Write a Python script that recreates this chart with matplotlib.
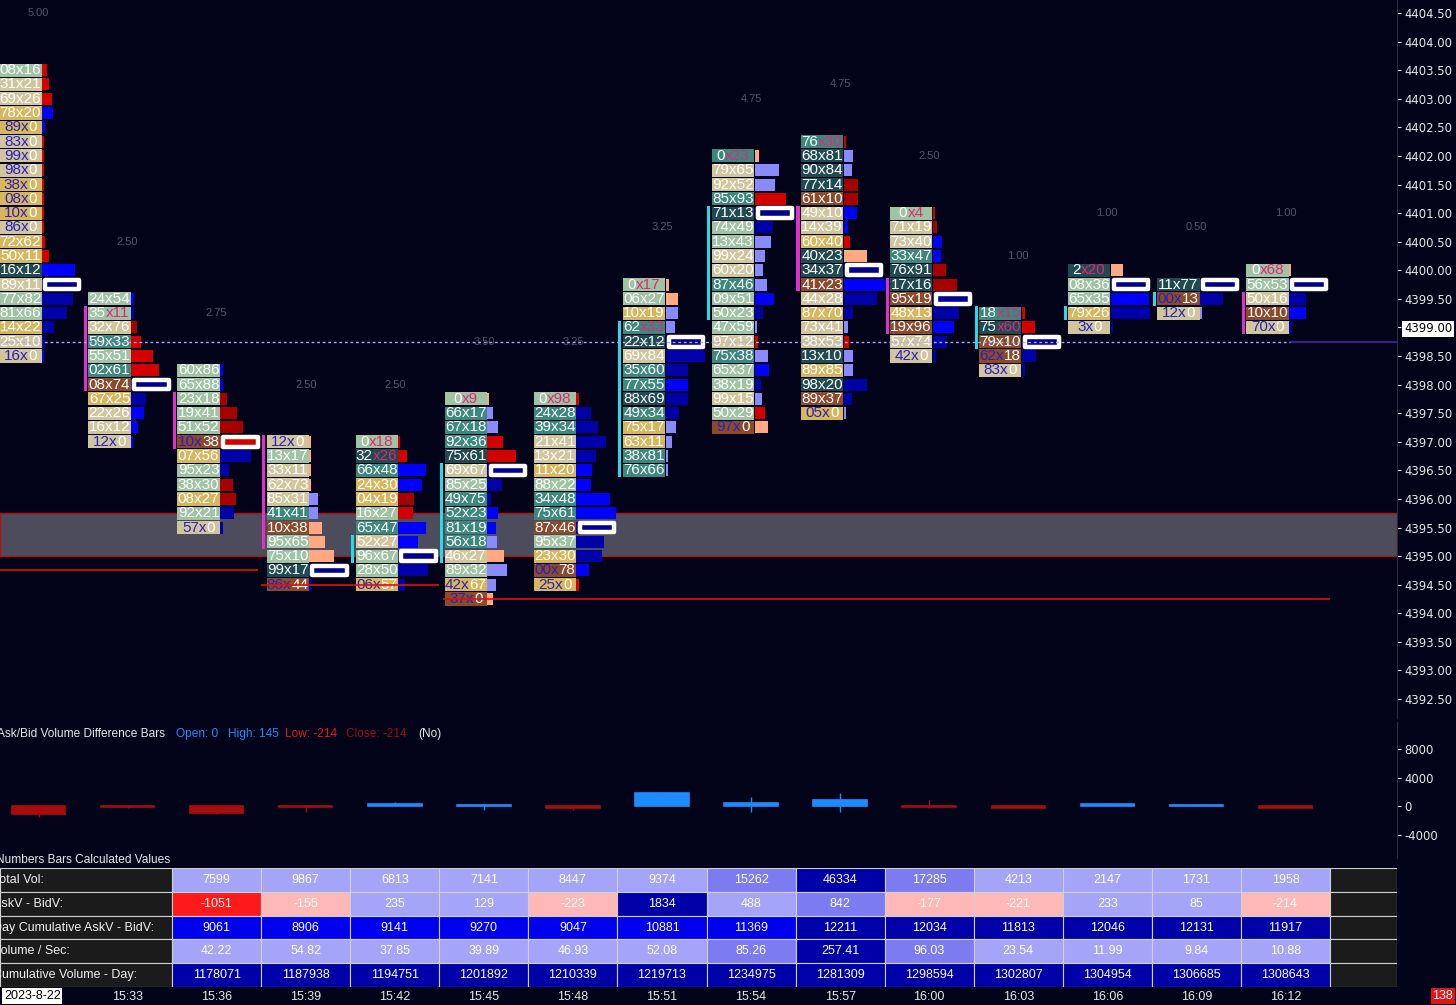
import matplotlib.pyplot as plt
from matplotlib.patches import Rectangle
import numpy as np

plt.rcParams['font.family'] = ['Liberation Sans', 'DejaVu Sans']

BG = '#03031a'

# ---- data ----
times = ["15:30", "15:33", "15:36", "15:39", "15:42", "15:45", "15:48", "15:51",
         "15:54", "15:57", "16:00", "16:03", "16:06", "16:09", "16:12"]
fp_top = [4403.50, 4399.50, 4398.25, 4397.00, 4397.00, 4397.75, 4397.75, 4399.75,
          4402.00, 4402.25, 4401.00, 4399.25, 4400.00, 4399.75, 4400.00]
fp_range = ["5.00", "2.50", "2.75", "2.50", "2.50", "3.50", "3.25", "3.25",
            "4.75", "4.75", "2.50", "1.00", "1.00", "0.50", "1.00"]

fp_text = [
    ["08x16", "31x21", "69x26", "78x20", "89x0", "83x0", "99x0", "98x0", "38x0", "08x0", "10x0",
     "86x0", "72x62", "50x11", "16x12", "89x11", "77x82", "81x66", "14x22", "25x10", "16x0"],
    ["24x54", "35x11", "32x76", "59x33", "55x51", "02x61", "08x74", "67x25", "22x26", "16x12", "12x0"],
    ["60x86", "65x88", "23x18", "19x41", "51x52", "10x38", "07x56", "95x23", "38x30", "08x27", "92x21", "57x0"],
    ["12x0", "13x17", "33x11", "62x73", "85x31", "41x41", "10x38", "95x65", "75x10", "99x17", "86x44"],
    ["0x18", "32x26", "66x48", "24x30", "04x19", "16x27", "65x47", "52x27", "96x67", "28x50", "06x57"],
    ["0x9", "66x17", "67x18", "92x36", "75x61", "69x67", "85x25", "49x75", "52x23", "81x19", "56x18",
     "46x27", "89x32", "42x67", "37x0"],
    ["0x98", "24x28", "39x34", "21x41", "13x21", "11x20", "88x22", "34x48", "75x61", "87x46", "95x37",
     "23x30", "00x78", "25x0"],
    ["0x17", "06x27", "10x19", "62x33", "22x12", "69x84", "35x60", "77x55", "88x69", "49x34", "75x17",
     "63x11", "38x81", "76x66"],
    ["0x23", "79x65", "92x52", "85x93", "71x13", "74x49", "13x43", "99x24", "60x20", "87x46", "09x51",
     "50x23", "47x59", "97x12", "75x38", "65x37", "38x19", "99x15", "50x29", "97x0"],
    ["76x30", "68x81", "90x84", "77x14", "61x10", "49x10", "14x39", "60x40", "40x23", "34x37", "41x23",
     "44x28", "87x70", "73x41", "38x53", "13x10", "89x85", "98x20", "89x37", "05x0"],
    ["0x4", "71x19", "73x40", "33x47", "76x91", "17x16", "95x19", "48x13", "19x96", "57x74", "42x0"],
    ["18x15", "75x60", "79x10", "62x18", "83x0"],
    ["2x20", "08x36", "65x35", "79x26", "3x0"],
    ["11x77", "00x13", "12x0"],
    ["0x68", "56x53", "50x16", "10x10", "70x0"],
]
# cell shade codes, text colour codes, profile lengths and profile colour codes
fp_cell = ["gttyytttyyytyydtggytt", "ggtcgcbyttt", "gggggbyggygt", "tgtttcbggdb", "gdcyygctggy",
           "gcccdtgcccctgyb", "gccttygccbgyby", "ggycdtccdcyycc", "cttcdggttcgggtcggtgb",
           "cdddbttyddbtyttdydby", "gttcddbybtt", "cdbbt", "dggyt", "dbt", "ggtbt"]
fp_style = ["wwwwBBBBBBBBwwwwwwwwB", "wPwwwwwwwwB", "wwwwwBwwwwwB", "BwwwwwwwwwB", "PPwwwwwwwwB",
            "PwwwwwwwwwwwwBB", "PwwwwwwwwwwwBB", "PwwPwwwwwwwwww", "PwwwwwwwwwwwwwwwwwwB",
            "PwwwwwwwwwwwwwwwwwwB", "PwwwwwwwwwB", "PPwBB", "PwwwB", "wBB", "PwwwB"]
fp_hlen = [
    [4.5, 7, 10, 11, 2.5, 2, 2, 2, 2, 2, 2, 2, 3, 6.5, 33, 38, 31, 25, 12, 3, 2],
    [3, 3, 6, 10, 22, 28, 38, 15, 13, 7, 2],
    [3, 3, 7, 17, 23, 38, 31, 9, 13, 16, 14, 3],
    [2, 2, 2, 2, 9, 9, 13, 16, 25, 38, 3],
    [2, 9, 28, 24, 16, 15, 28, 20, 38, 30, 7],
    [2, 6, 11, 16, 29, 38, 15, 4, 11, 9, 10, 17, 20, 9, 6],
    [3, 15, 22, 30, 20, 16, 15, 34, 40, 38, 28, 26, 13, 3],
    [3, 12, 12, 9, 38, 39, 22, 22, 22, 13, 10, 6, 2, 2],
    [4, 24, 20, 31, 38, 18, 16, 10, 8, 12, 19, 8, 2, 3, 13, 14, 6, 7, 10, 13],
    [2, 9, 8, 14, 14, 13, 4, 6, 23, 38, 41, 33, 9, 4, 5, 9, 9, 23, 8, 2],
    [2, 4, 9, 8, 13, 24, 37, 26, 21, 14, 3],
    [3, 13, 38, 14, 3],
    [12, 37, 38, 39, 2],
    [37, 23, 2],
    [2, 38, 17, 17, 3],
]
fp_hcol = ["rrrbbrrrrrrrrrbnnnnnb", "bnRrrrnnbbb", "bbRRRrnnRRnn", "ssssllsssnn", "rrbbRrbbnnn",
           "sllrrnnnbblslls", "rnnnnbbbbnnnbr", "ssllnnnbnnllll", "sllrnnllllbnlrlbnlrs",
           "rllRRbbrsnbnnlrllnnl", "rRbbRRnnbnn", "rrnnn", "snbnn", "nnl", "snnbn"]
fp_poc = [15, 6, 5, 9, 8, 5, 9, 4, 4, 9, 6, 2, 1, 0, 1]
fp_mark = [None, ('m', 1, 6), ('m', 2, 5), ('m', 0, 7), ('c', 7, 8), ('c', 5, 11), None,
           ('c', 3, 13), ('c', 4, 11), ('m', 5, 10), ('m', 5, 8), ('c', 0, 2), ('c', 3, 3),
           ('c', 1, 1), ('m', 2, 4)]

zone_lo, zone_hi = 4395.00, 4395.75
low_price = [4394.75, 4394.50, 4394.25]
low_from = [-1.0, 2.50, 4.54]
low_to = [2.46, 4.50, 14.50]
ref_price = 4398.75
last_price = 4399.00

delta_close = [-1150, -180, -1051, -155, 235, 129, -223, 1834, 488, 842, -177, -221, 233, 85, -214]
delta_high = [0, 20, 30, 30, 600, 180, 20, 2000, 1300, 1800, 800, 0, 280, 120, 145]
delta_low = [-1500, -250, -1100, -900, -20, -500, -500, -20, -800, -800, -220, -260, 0, -30, -214]

tbl_labels = ["Total Vol:", "AskV - BidV:", "Day Cumulative AskV - BidV:", "Volume / Sec:",
              "Cumulative Volume - Day:"]
total_vol = [7599, 9867, 6813, 7141, 8447, 9374, 15262, 46334, 17285, 4213, 2147, 1731, 1958]
ask_bid = [-1051, -155, 235, 129, -223, 1834, 488, 842, -177, -221, 233, 85, -214]
cum_delta = [9061, 8906, 9141, 9270, 9047, 10881, 11369, 12211, 12034, 11813, 12046, 12131, 11917]
vol_sec = [42.22, 54.82, 37.85, 39.89, 46.93, 52.08, 85.26, 257.41, 96.03, 23.54, 11.99, 9.84, 10.88]
cum_vol = [1178071, 1187938, 1194751, 1201892, 1210339, 1219713, 1234975, 1281309, 1298594,
           1302807, 1304954, 1306685, 1308643]
tbl_shade = ["llllllmnmllll", "Rpllpnlmppllp", "bbbbbbbnnnnnn", "llllllmnmllll", "nnnnnnnnnnnnn"]

# ---- colours ----
cell_col = {'g': '#a0c3a3', 't': '#d0c59d', 'y': '#d7b75e', 'c': '#3c887e', 'd': '#1f4a52', 'b': '#8b4a2b'}
hist_col = {'r': '#d40000', 'R': '#a60000', 'b': '#0000ff', 'n': '#0000a8', 'l': '#8a8aff', 's': '#ffa882'}
mark_col = {'m': '#e030d0', 'c': '#22dde8'}
tbl_col = {'l': '#a4a4f8', 'm': '#7c7cf0', 'n': '#0000a8', 'b': '#0000f0', 'R': '#ff1a1a', 'p': '#ffb8b8'}
WHITE, BLUE_T, PINK_T = '#ffffff', '#2a1fc0', '#e0287a'

W, H = 1456, 1005
PX = 89.07          # pixels per bar
XL = (-38.5 / PX, (1397 - 38.5) / PX)


def box(x0, y0, x1, y1):
    return [x0 / W, 1 - y1 / H, (x1 - x0) / W, (y1 - y0) / H]


fig = plt.figure(figsize=(14.56, 10.05), dpi=100, facecolor=BG)

# ---- main price pane ----
ax = fig.add_axes(box(0, 0, 1397, 718))
ax.set_facecolor(BG)
ax.set_xlim(*XL)
ax.set_ylim(4404.5 - 705 / 57.17, 4404.5 + 13 / 57.17)
for s in ['top', 'left', 'bottom']:
    ax.spines[s].set_visible(False)
ax.spines['right'].set_color('#2a2a3a')
ax.set_xticks([])
ticks = np.arange(4392.5, 4404.51, 0.5)
ax.yaxis.tick_right()
ax.set_yticks(ticks, labels=["%.2f" % t for t in ticks])
ax.tick_params(axis='y', colors='#e8e8e8', length=3, width=0.8, pad=2, labelsize=8.4,
               labelfontfamily='DejaVu Sans')
for lbl in ax.get_yticklabels():
    if lbl.get_text() == "%.2f" % last_price:
        lbl.set_color('black')
        lbl.set_bbox(dict(fc='white', ec='none', pad=1.2))

ax.add_patch(Rectangle((XL[0], zone_lo), XL[1] - XL[0], zone_hi - zone_lo, fc='#4c4c5c',
                       ec='#b01010', lw=1, zorder=1))
ax.hlines(low_price, low_from, low_to, color='#e01010', lw=1.2, zorder=7)
ax.hlines(ref_price, XL[0], 14.05, color='#b0a8f0', lw=1, linestyles=(0, (2, 2)), zorder=7)
ax.hlines(ref_price, 14.05, XL[1], color='#3c1c8c', lw=1.5, zorder=2)

fs = 11
em = fs * 100 / 72


def tw(s):
    return sum(0.556 if ch.isdigit() else 0.5 for ch in s) * em / PX


for i in range(len(fp_text)):
    rows = fp_text[i]
    ax.text(i, fp_top[i] + 1.0, fp_range[i], color='#555566', fontsize=8, ha='center', va='center')
    if fp_mark[i] is not None:
        mc, r0, r1 = fp_mark[i]
        ax.add_patch(Rectangle((i - 0.49, fp_top[i] - 0.25 * r1 - 0.12), 0.034,
                               0.25 * (r1 - r0 + 1) - 0.01, fc=mark_col[mc], ec='none', zorder=4))
    for r, s in enumerate(rows):
        p = fp_top[i] - 0.25 * r
        cell = Rectangle((i - 0.44, p - 0.115), 0.475, 0.23, fc=cell_col[fp_cell[i][r]],
                         ec='none', zorder=3)
        ax.add_patch(cell)
        ax.add_patch(Rectangle((i + 0.04, p - 0.105), fp_hlen[i][r] / PX, 0.21,
                               fc=hist_col[fp_hcol[i][r]], ec='none', zorder=3))
        cx = i - 0.2025
        st = fp_style[i][r]
        k = s.index('x')
        if st == 'w':
            parts = [ax.text(cx, p, s, color=WHITE, fontsize=fs, ha='center', va='center', zorder=5)]
        else:
            left, right = (s[:k + 1], s[k + 1:]) if st == 'B' else (s[:k], s[k:])
            lc, rc = (BLUE_T, WHITE) if st == 'B' else (WHITE, PINK_T)
            sx = cx - tw(s) / 2 + tw(left)
            parts = [ax.text(sx, p, left, color=lc, fontsize=fs, ha='right', va='center', zorder=5),
                     ax.text(sx, p, right, color=rc, fontsize=fs, ha='left', va='center', zorder=5)]
        for t in parts:
            t.set_clip_path(cell)
    pp = fp_top[i] - 0.25 * fp_poc[i]
    ax.add_patch(Rectangle((i + 0.075, pp - 0.085), 0.385, 0.17, fc='#d40000' if i == 2 else '#00008b',
                           ec='white', lw=3.2, joinstyle='round', zorder=6))

# ---- delta pane ----
ax2 = fig.add_axes(box(0, 722, 1397, 858))
ax2.set_facecolor(BG)
ax2.set_xlim(*XL)
ax2.set_ylim((806 - 858) / 0.007125, (806 - 722) / 0.007125)
for s in ['top', 'left', 'bottom']:
    ax2.spines[s].set_visible(False)
ax2.spines['right'].set_color('#2a2a3a')
ax2.set_xticks([])
ax2.yaxis.tick_right()
ax2.set_yticks([8000, 4000, 0, -4000], labels=["8000", "4000", "0", "-4000"])
ax2.tick_params(axis='y', colors='#e8e8e8', length=3, width=0.8, pad=2, labelsize=8.4,
                labelfontfamily='DejaVu Sans')
for i, (c, hi, lo) in enumerate(zip(delta_close, delta_high, delta_low)):
    col = '#1e8cff' if c >= 0 else '#a80c0c'
    ax2.vlines(i, lo, hi, color=col, lw=1)
    ax2.add_patch(Rectangle((i - 0.3, min(0, c)), 0.6, abs(c), fc=col, ec=col, lw=1.2))

ty = 1 - 734 / H
fig.text(-3 / W, ty, "Ask/Bid Volume Difference Bars", color='#e8e8e8', fontsize=8.6, va='center')
fig.text(176 / W, ty, "Open: 0", color='#1e8cff', fontsize=8.6, va='center')
fig.text(228 / W, ty, "High: 145", color='#1e8cff', fontsize=8.6, va='center')
fig.text(285 / W, ty, "Low: -214", color='#e01a1a', fontsize=8.6, va='center')
fig.text(346 / W, ty, "Close: -214", color='#9a0e0e', fontsize=8.6, va='center')
fig.text(418 / W, ty, "(No)", color='#e8e8e8', fontsize=8.6, va='center')

# ---- values table ----
ax3 = fig.add_axes(box(0, 868, 1397, 987))
ax3.set_facecolor(BG)
ax3.set_xlim(*XL)
ax3.set_ylim(5, 0)
for s in ax3.spines.values():
    s.set_visible(False)
ax3.set_yticks([])
ax3.set_xticks(range(1, len(times)), labels=times[1:])
ax3.tick_params(axis='x', colors='#e8e8e8', length=0, pad=3, labelsize=9)

tbl_rows = [total_vol, ask_bid, cum_delta, vol_sec, cum_vol]
for r, vals in enumerate(tbl_rows):
    ax3.add_patch(Rectangle((XL[0], r), 1.5 - XL[0], 1, fc='#1b1b1b', ec='#d0d0d0', lw=0.8))
    fig.text(-7 / W, 1 - (868 + 23.8 * (r + 0.5)) / H, tbl_labels[r], color='#f0f0f0',
             fontsize=9, va='center')
    for k, v in enumerate(vals):
        x = k + 2
        ax3.add_patch(Rectangle((x - 0.5, r), 1, 1, fc=tbl_col[tbl_shade[r][k]], ec='#d0d0d0', lw=0.8))
        txt = "%.2f" % v if isinstance(v, float) else str(v)
        ax3.text(x, r + 0.5, txt, color='white', fontsize=9, ha='center', va='center')
    ax3.add_patch(Rectangle((len(vals) + 1.5, r), XL[1] - len(vals) - 1.5, 1, fc='#1b1b1b',
                            ec='#d0d0d0', lw=0.8))

fig.text(-4 / W, 1 - 860 / H, "Numbers Bars Calculated Values", color='#e8e8e8', fontsize=8.6,
         va='center')
fig.text(4 / W, 1 - 996 / H, "2023-8-22", color='black', fontsize=9, va='center',
         bbox=dict(fc='white', ec='none', pad=1.2))
fig.text(1453 / W, 1 - 996 / H, "138", color='white', fontsize=9, va='center', ha='right',
         bbox=dict(fc='#e01515', ec='none', pad=1.2))

fig.savefig("out.png", dpi=100, facecolor=BG)
plt.close(fig)
